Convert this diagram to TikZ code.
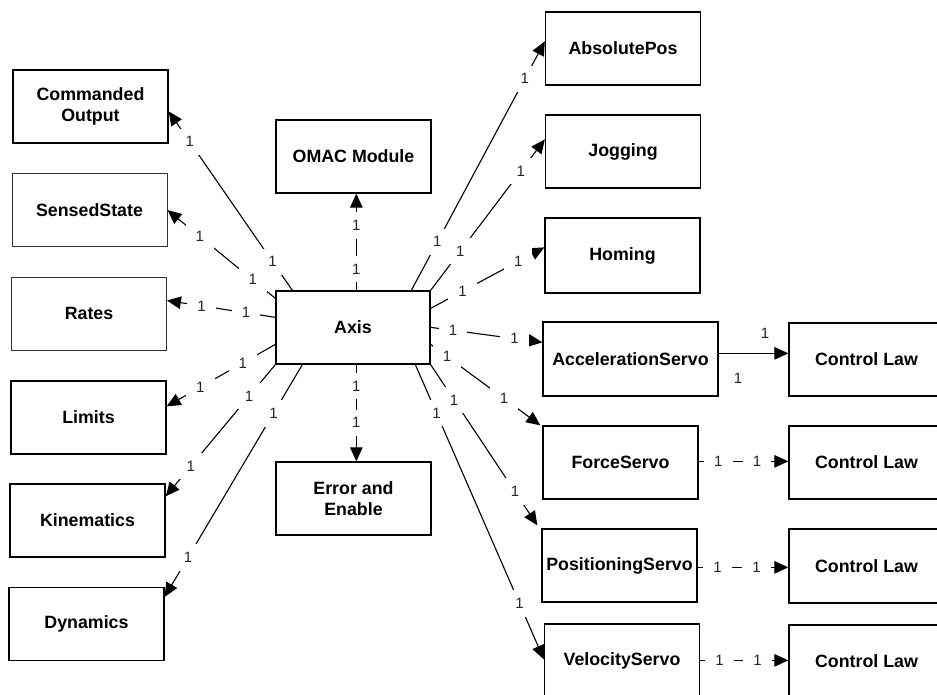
\documentclass[tikz,border=0pt]{standalone}
\usepackage{fontspec}
\setmainfont{Liberation Sans}
\usetikzlibrary{calc,arrows.meta}

\begin{document}
\begin{tikzpicture}[x=1pt,y=-1pt,
  box/.style={draw=black, line width=1.3pt, fill=white, minimum width=155pt,
    minimum height=73pt, inner sep=0pt, align=center,
    font=\fontsize{17.8}{21}\selectfont\bfseries},
  thinbox/.style={box, line width=0.9pt, draw=black!80},
  conn/.style={line width=1.1pt, -{Triangle[length=14pt,width=12.5pt]}},
  lbl/.style={fill=white, inner xsep=10pt, inner ysep=8pt, text=black!85,
    font=\fontsize{15}{17}\selectfont},
  lblplain/.style={inner sep=0pt, text=black!85, font=\fontsize{15}{17}\selectfont}]

\useasboundingbox (0,0) rectangle (937,695);

% left column
\node[box]      (co)   at (90.5,106.5) {Commanded\\Output};
\node[thinbox]  (ss)   at (89.5,210)   {SensedState};
\node[thinbox]  (rat)  at (89,313.5)   {Rates};
\node[box]      (lim)  at (88.5,417.5) {Limits};
\node[box]      (kin)  at (87.5,520.5) {Kinematics};
\node[box]      (dyn)  at (86.5,624)   {Dynamics};

% centre column
\node[box] (omac) at (353.5,156.5) {OMAC Module};
\node[box, minimum width=154pt] (axis) at (353,327.5) {Axis};
\node[box] (ee)   at (353.5,498.5) {Error and\\Enable};

% right column
\node[box] (abs)  at (623,48.5)   {AbsolutePos};
\node[box] (jog)  at (623,151.5)  {Jogging};
\node[box, minimum height=75pt] (hom)  at (622.5,255.5) {Homing};
\node[box, minimum width=175pt, minimum height=74pt] (acc) at (630.5,359) {AccelerationServo};
\node[box] (frc)  at (620.5,462.5) {ForceServo};
\node[box] (pos)  at (619.5,565.5) {PositioningServo};
\node[box] (vel)  at (622,660.5)   {VelocityServo};

% control laws
\node[box] (cl1) at (866.5,359.5) {Control Law};
\node[box] (cl2) at (866.5,462.5) {Control Law};
\node[box, minimum height=74pt] (cl3) at (866.5,566) {Control Law};
\node[box] (cl4) at (866.5,661.5) {Control Law};

% associations to the left
\draw[conn] ($(axis.north west)+(17,0)$) -- node[lbl,pos=.16] (a1) {1} node[lbl,pos=.83] (b1) {1} ($(co.north east)+(0,42)$);
\draw[conn] ($(axis.north west)+(0,8)$)  -- node[lbl,pos=.21] (a2) {1} node[lbl,pos=.70] (b2) {1} ($(ss.north east)+(0,37)$);
\draw[conn] ($(axis.north west)+(0,27)$) -- node[lbl,pos=.27] (a3) {1} node[lbl,pos=.68] (b3) {1} ($(rat.north east)+(0,24)$);
\draw[conn] ($(axis.north west)+(0,54)$) -- node[lbl,pos=.30] (a4) {1} node[lbl,pos=.69] (b4) {1} ($(lim.north east)+(0,26)$);
\draw[conn] (axis.south west)            -- node[lbl,pos=.24] (a5) {1} node[lbl,pos=.77] (b5) {1} ($(kin.north east)+(0,13)$);
\draw[conn] ($(axis.south west)+(27,0)$) -- node[lbl,pos=.21] (a6) {1} node[lbl,pos=.83] (b6) {1} ($(dyn.north east)+(0,10)$);

% vertical associations
\draw[conn] ($(axis.north west)+(81,0)$) -- node[lbl,pos=.22] (a7) {1} node[lbl,pos=.67] (b7) {1} ($(omac.south west)+(81,0)$);
\draw[conn] ($(axis.south west)+(81,0)$) -- node[lbl,pos=.22] (a8) {1} node[lbl,pos=.60] (b8) {1} ($(ee.north west)+(81,0)$);

% associations to the right
\draw[conn] ($(axis.north west)+(136,0)$) -- node[lbl,pos=.195] (a9) {1} node[lbl,pos=.85] (b9) {1} ($(abs.north west)+(0,30)$);
\draw[conn] (axis.north east)             -- node[lbl,pos=.26] (a10) {1} node[lbl,pos=.79] (b10) {1} ($(jog.north west)+(0,25)$);
\draw[conn] ($(axis.north east)+(0,18)$)  -- node[lbl,pos=.28] (a11) {1} node[lbl,pos=.77] (b11) {1} ($(hom.north west)+(0,30)$);
\draw[conn] ($(axis.north east)+(0,37)$)  -- node[lbl,pos=.20] (a12) {1} node[lbl,pos=.75] (b12) {1} ($(acc.north west)+(0,21)$);
\draw[conn] ($(axis.north east)+(0,54)$)  -- node[lbl,pos=.15] (a13) {1} node[lbl,pos=.67] (b13) {1} ($(frc.north west)+(-2,0)$);
\draw[conn] (axis.south east)             -- node[lbl,pos=.22] (a14) {1} node[lbl,pos=.79] (b14) {1} ($(pos.north west)+(-4,-3)$);
\draw[conn] ($(axis.south west)+(140,0)$) -- node[lbl,pos=.165] (a15) {1} node[lbl,pos=.81] (b15) {1} ($(vel.north west)+(0,36)$);

% servo to control law
\draw[conn] ($(acc.north east)+(0,32)$) -- ($(cl1.north west)+(0,31)$);
\node[lblplain] (c1a) at (765,333) {1};
\node[lblplain] (c1b) at (738,378) {1};
\draw[conn] ($(frc.north east)+(0,36)$) -- node[lbl,pos=.22] (c2a) {1} node[lbl,pos=.65] (c2b) {1} ($(cl2.north west)+(0,36)$);
\draw[conn] ($(pos.north east)+(0,39)$) -- node[lbl,pos=.22] (c3a) {1} node[lbl,pos=.65] (c3b) {1} ($(cl3.north west)+(0,39)$);
\draw[conn] ($(vel.north east)+(0,37)$) -- node[lbl,pos=.22] (c4a) {1} node[lbl,pos=.65] (c4b) {1} ($(cl4.north west)+(0,36)$);

\end{tikzpicture}
\end{document}
